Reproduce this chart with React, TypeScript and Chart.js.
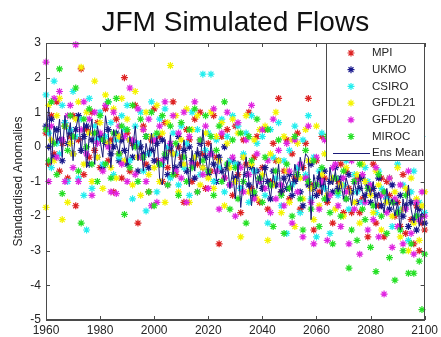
import React, { useEffect, useRef } from "react";
import { Chart, registerables } from "chart.js";
Chart.register(...registerables);

const startYear = 1960;
const endYear = 2100;
const xTicks = [1960, 1980, 2000, 2020, 2040, 2060, 2080, 2100];
const yTicks = [-5, -4, -3, -2, -1, 0, 1, 2, 3];
const titleText = "JFM Simulated Flows";
const yAxisTitle = "Standardised Anomalies";

const modelNames = ["MPI", "UKMO", "CSIRO", "GFDL21", "GFDL20", "MIROC"];
const modelColors = ["#dd2222", "#18188c", "#22eeee", "#f4f400", "#e024e0", "#24e024"];
const meanName = "Ens Mean";
const meanColor = "#1a1a78";

const mpi = [
  0.4, -0.5, 0.9, -0.2, 1.3, -0.7, 0.1, 0.6, -0.9, 0.3,
  0.9, -1.7, 0.2, 2.25, -0.8, 0.5, -0.3, 1.0, -0.1, 0.7,
  -0.6, 0.3, 1.1, -0.4, 0.2, -1.3, 0.8, -0.2, -0.9, 2.0,
  0.4, -0.7, 0.1, 1.2, -2.2, -0.3, 0.6, -0.5, -1.3, 0.2,
  1.1, -0.4, 0.3, -1.0, 0.7, -0.6, -0.1, 1.3, -0.8, 0.0,
  -0.3, -1.6, 0.5, 0.2, -1.0, 0.8, -0.5, 1.0, -0.2, -1.2,
  0.1, -0.7, 0.9, -0.3, -2.8, 0.3, -0.9, 0.5, -0.4, -1.4,
  0.6, -0.8, -1.9, 0.2, -0.5, 1.0, -1.2, -0.3, 0.3, -1.6,
  -0.6, 0.5, -1.8, -1.0, 0.1, -0.4, 1.4, -1.3, -0.7, 0.2,
  -1.5, -0.2, -0.9, 0.4, -1.8, -0.6, 0.1, 1.4, -1.1, -2.4,
  -0.4, -1.3, 0.3, -0.9, -1.6, -0.2, -2.2, 0.6, -1.0, -0.5,
  -1.9, -0.7, -1.2, -1.9, 0.2, -0.9, -1.9, -1.5, -0.3, -2.6,
  -1.2, -0.5, -2.2, -1.7, -0.9, -2.6, -1.0, -1.4, 0.7, -2.0,
  -1.6, -2.3, -0.8, -2.5, -1.3, -2.1, -2.8, -1.7, -3.0, -2.2,
  -2.4,
];
const ukmo = [
  0.6, 0.0, 0.8, -0.3, 0.5, 0.2, -0.4, 0.7, 0.1, 0.4,
  -0.2, 0.5, 0.9, -0.1, 0.3, 0.6, -0.5, 0.2, 0.4, -0.3,
  0.3, -0.6, 0.1, 0.5, -0.2, 0.0, 0.4, -0.4, 0.2, -0.1,
  -0.5, 0.2, -0.3, 0.1, -0.7, 0.0, -0.2, 0.3, -0.6, -0.1,
  -0.4, 0.1, -0.5, 0.2, -0.3, -0.8, 0.0, -0.2, -0.6, 0.3,
  -0.5, -0.1, -0.7, 0.0, -0.4, -0.9, -0.2, 0.1, -0.6, -0.3,
  -0.8, -0.2, -0.5, -1.0, -0.3, -0.7, 0.0, -0.6, -1.1, -0.4,
  -0.9, -0.5, -1.2, -0.3, -0.8, -1.1, -0.6, -1.4, -0.7, -0.9,
  -1.2, -0.6, -1.0, -1.5, -0.7, -1.1, -0.4, -1.3, -0.9, -1.2,
  -0.8, -1.4, -1.0, -0.6, -1.3, -1.7, -0.9, -1.1, -0.5, -1.2,
  -1.4, -0.9, -1.1, -0.7, -1.5, -1.0, -1.3, -0.6, -1.2, -0.9,
  -1.1, -1.5, -0.8, -1.3, -1.0, -1.6, -1.2, -0.9, -1.4, -1.1,
  -1.6, -1.2, -1.4, -0.9, -1.7, -1.3, -1.5, -1.8, -1.1, -1.6,
  -1.9, -1.4, -2.0, -1.7, -2.3, -1.6, -2.1, -2.4, -1.8, -2.0,
  -2.2,
];
const csiro = [
  1.5, 0.4, -0.6, 1.9, 0.1, -0.2, 1.2, 0.7, -1.0, 0.5,
  1.6, 0.3, -0.9, 0.8, -1.4, -2.4, 1.4, -1.2, 0.6, 0.2,
  1.0, -0.5, 0.3, 1.3, 0.7, -0.8, 0.2, -0.3, 0.9, 0.5,
  1.2, -0.4, -1.5, 0.6, 0.1, 1.0, -0.7, -1.85, -0.2, 1.3,
  0.3, -1.3, 0.8, -0.5, 1.1, 0.0, -0.9, 0.4, -0.2, -1.1,
  0.6, -0.6, 0.1, -1.4, 1.0, -0.3, 0.5, -0.8, 2.1, -0.1,
  0.4, 2.1, -1.0, 0.2, -0.6, 0.8, -1.3, 0.3, -0.4, 0.9,
  -0.5, 0.6, -1.2, -0.2, 0.4, -1.6, 0.9, -0.7, 0.1, -1.0,
  0.3, -1.4, -2.2, 0.5, -0.3, -0.9, 0.7, -1.7, -0.4, -2.5,
  -0.1, -1.1, 0.6, -0.6, -1.9, 0.2, -0.8, 0.9, -1.5, -0.3,
  -2.6, -0.7, 0.4, -1.2, -0.2, -2.5, 0.5, -0.9, -1.4, 0.8,
  -1.1, -0.4, -1.8, 0.3, -0.8, -1.3, 0.9, -1.6, -0.6, -1.0,
  -0.2, 1.2, -1.9, -0.7, -1.2, 0.2, -1.5, -0.9, -2.3, 1.0,
  -0.5, -1.8, -1.1, 0.5, -2.7, -1.3, -0.7, -2.0, -1.6, 0.3,
  -1.9,
];
const gfdl21 = [
  -1.75, 1.2, 0.2, -0.4, 0.9, 1.4, -2.1, 0.6, -1.6, 0.1,
  -0.2, 0.8, 1.3, 2.3, -0.5, 1.0, 0.4, -1.0, 1.9, -0.3,
  0.7, -1.2, 1.5, 0.1, -0.6, 1.1, -0.9, 0.3, 1.4, -0.4,
  0.8, 0.2, -1.1, 1.6, -0.3, -1.4, 0.5, 1.0, -0.8, 0.3,
  -0.6, 1.2, -1.0, 0.4, -1.6, 0.7, 2.35, -0.2, 0.9, -1.3,
  0.2, -0.5, 1.1, -1.6, 0.5, -0.3, 0.9, -1.1, -0.6, 0.4,
  -0.9, 1.0, -1.2, 0.3, -0.4, 0.7, -1.7, 0.1, -0.6, 0.8,
  -1.0, 0.4, -2.6, -0.3, 0.9, -1.3, -0.5, 0.2, -1.5, 0.5,
  -0.8, 0.6, -2.7, -0.2, -1.1, 1.0, -0.4, -1.9, 0.3, -0.7,
  -1.6, 0.2, -2.3, 0.1, -0.9, -1.5, 0.5, -0.4, -1.2, -2.1,
  0.6, -1.7, -0.8, -0.2, -1.4, 0.4, -0.9, -1.8, -0.3, -1.1,
  -2.0, -0.6, -1.3, 0.1, -1.6, -0.8, -2.2, -0.5, -1.0, 0.3,
  -1.4, -1.9, -0.7, -1.1, -2.4, -0.3, -1.6, -0.9, -2.0, -1.3,
  -0.6, -2.6, -1.8, -1.2, -3.0, -0.9, -2.2, -1.5, -2.7, -1.7,
  -1.3,
];
const gfdl20 = [
  2.45, -1.0, 0.6, 1.4, -0.3, 1.6, 0.2, -1.0, 0.9, 1.2,
  -0.6, 2.95, -1.0, 0.5, 1.3, -0.2, 0.8, -1.4, 1.0, 0.1,
  0.4, -0.7, 1.2, 0.0, -1.3, 1.0, -1.35, 0.6, -0.5, 0.3,
  -1.0, 1.7, 0.2, -0.8, 1.1, -0.3, 0.5, -1.0, 0.8, -1.7,
  0.2, -1.6, 0.6, -0.4, 1.3, -1.1, 0.1, 0.9, -0.7, 0.4,
  -0.9, 1.0, -1.6, 0.3, -0.5, 1.3, -1.3, 0.2, -0.8, 0.6,
  -1.2, -0.2, 1.1, -0.7, -1.8, 0.4, -0.9, 1.0, -1.1, -0.3,
  -2.0, 0.7, -0.6, -1.3, 0.2, -0.8, 1.2, -1.5, -0.2, -1.0,
  0.5, -1.2, -0.4, -1.9, 0.8, -1.5, -0.1, -1.1, -1.7, 0.1,
  -0.7, -2.2, 0.2, -1.3, -0.5, -2.6, -0.9, 0.6, -1.6, -2.8,
  -0.3, -1.8, -1.0, 0.2, -2.7, -1.4, -0.6, -0.5, -1.7, -2.3,
  -0.9, -1.3, -2.8, -0.4, -1.8, -1.0, -3.1, -0.8, -1.6, -2.4,
  -1.1, -2.1, -0.6, -2.6, -1.4, -4.25, -1.9, -0.9, -2.9, -1.5,
  -2.3, -1.1, -2.8, -1.8, -0.7, -2.5, -3.1, -1.6, -2.1, -1.3,
  -2.0,
];
const miroc = [
  0.5, -0.4, 1.3, 0.1, -0.8, 2.25, -1.35, 0.6, -0.1, 0.9,
  0.3, 1.7, -0.7, -2.2, 0.8, 0.0, 1.1, -0.5, 0.4, -1.0,
  0.9, 0.2, -0.5, 1.3, -0.9, 0.4, 1.4, -0.2, 0.6, -1.95,
  0.5, -0.6, 1.2, 0.0, -1.0, 0.8, -0.3, 0.3, -1.3, 1.0,
  -1.7, 0.4, -0.5, 0.9, -0.2, -1.1, 0.6, -0.8, 0.1, -1.4,
  0.7, -0.3, -1.0, 0.5, -0.6, 1.1, -1.3, 0.2, -0.4, 0.9,
  -0.7, 0.3, -1.4, -0.1, 0.6, -1.0, 1.3, -0.5, -1.8, 0.2,
  -0.6, -1.5, 0.4, -1.0, -2.2, 0.3, -0.4, -1.3, 0.8, -0.9,
  -1.6, -0.3, 0.5, -1.1, -2.3, -0.7, 0.2, -1.4, -2.5, -0.5,
  -1.2, -2.0, 0.3, -0.8, -1.5, -2.4, -0.1, -1.0, -1.8, -0.4,
  -1.1, -2.3, -0.6, -1.5, 0.3, -1.9, -2.8, -0.9, -1.3, -2.0,
  -0.7, -1.5, -3.5, -2.4, -1.0, -2.7, -0.5, -1.8, -2.1, -1.2,
  -2.9, -1.7, -3.6, -0.8, -2.0, -1.3, -2.5, -3.2, -1.6, -3.85,
  -1.9, -2.4, -3.0, -1.4, -3.65, -2.8, -3.65, -2.0, -3.3, -4.7,
  -3.1,
];
const ensMean = [
  0.3, 1.15, -0.5, 0.6, 0.1, 0.8, -0.3, 0.9, 0.2, 0.7,
  -0.4, 0.5, 0.9, -0.2, 0.7, -0.6, 0.3, 0.8, -0.5, 0.6,
  0.2, -0.3, 0.9, 0.4, -0.6, 0.5, 0.1, -0.2, 0.5, 0.0,
  -0.5, 0.3, -0.1, 0.6, -0.4, 0.2, -0.7, 0.1, -0.3, 0.4,
  -0.3, 0.3, -0.9, -1.1, 0.2, -0.5, 0.35, -0.8, -0.2, 0.1,
  -0.6, 0.2, -0.4, -1.15, -0.1, -0.7, 0.0, -0.5, 0.5, -0.3,
  -0.8, 0.1, -0.5, -0.9, -0.2, -0.6, -1.0, -0.4, -1.2, -0.7,
  -1.5, -0.5, -1.75, -0.9, -0.3, -1.0, -1.7, -0.6, -1.2, -0.8,
  -1.3, -0.6, -1.0, -1.5, -0.8, -1.2, -0.5, -1.4, -0.9, -1.1,
  -0.9, -1.3, -0.5, -1.0, -0.3, -0.7, -0.2, -0.3, -2.1, -0.8,
  -1.2, -0.7, -1.4, -0.9, -1.6, -0.6, -1.1, -0.7, -1.3, -1.0,
  -1.5, -0.9, -1.2, -1.7, -1.0, -1.4, -0.8, -1.3, -1.6, -1.1,
  -1.4, -1.0, -1.8, -1.3, -1.6, -1.9, -1.2, -1.7, -1.5, -2.0,
  -1.6, -2.4, -1.5, -1.9, -1.1, -1.8, -2.2, -1.6, -2.3, -1.9,
  -2.0,
];

const modelSeries = [mpi, ukmo, csiro, gfdl21, gfdl20, miroc];
const FONT = "'Liberation Sans', Arial, sans-serif";
const AXIS_COLOR = "#4a4a4a";
const TEXT_COLOR = "#262626";

function toPoints(vals: number[]) {
  return vals.map((v, i) => ({ x: startYear + i, y: v }));
}

function drawStar(ctx: CanvasRenderingContext2D, x: number, y: number, r: number) {
  const d = r * Math.SQRT1_2;
  ctx.beginPath();
  ctx.moveTo(x - r, y); ctx.lineTo(x + r, y);
  ctx.moveTo(x, y - r); ctx.lineTo(x, y + r);
  ctx.moveTo(x - d, y - d); ctx.lineTo(x + d, y + d);
  ctx.moveTo(x - d, y + d); ctx.lineTo(x + d, y - d);
  ctx.stroke();
}

const decorPlugin = {
  id: "decor",
  afterDraw(chart: any) {
    const { ctx, chartArea: a, scales } = chart;
    ctx.save();
    ctx.strokeStyle = AXIS_COLOR;
    ctx.lineWidth = 1;
    ctx.strokeRect(Math.round(a.left) + 0.5, Math.round(a.top) + 0.5, Math.round(a.right - a.left) - 1, Math.round(a.bottom - a.top) - 1);
    const tl = 4;
    ctx.beginPath();
    scales.x.ticks.forEach((t: any) => {
      const px = Math.round(scales.x.getPixelForValue(t.value)) + 0.5;
      ctx.moveTo(px, a.bottom); ctx.lineTo(px, a.bottom - tl);
      ctx.moveTo(px, a.top); ctx.lineTo(px, a.top + tl);
    });
    scales.y.ticks.forEach((t: any) => {
      const py = Math.round(scales.y.getPixelForValue(t.value)) + 0.5;
      ctx.moveTo(a.left, py); ctx.lineTo(a.left + tl, py);
      ctx.moveTo(a.right, py); ctx.lineTo(a.right - tl, py);
    });
    ctx.stroke();

    ctx.fillStyle = "#111";
    ctx.font = `28px ${FONT}`;
    ctx.textAlign = "center";
    ctx.textBaseline = "alphabetic";
    ctx.fillText(titleText, (a.left + a.right) / 2, 31);

    const lx = 326, ly = Math.round(a.top), lw = Math.round(a.right) - 326, lh = 118;
    ctx.fillStyle = "#ffffff";
    ctx.fillRect(lx, ly, lw, lh);
    ctx.strokeStyle = AXIS_COLOR;
    ctx.strokeRect(lx + 0.5, ly + 0.5, lw - 1, lh - 1);
    ctx.font = `11.5px ${FONT}`;
    ctx.textAlign = "left";
    ctx.textBaseline = "middle";
    const rowH = 16.7;
    modelNames.forEach((name, i) => {
      const cy = ly + 10 + i * rowH;
      ctx.strokeStyle = modelColors[i];
      ctx.lineWidth = 1.2;
      drawStar(ctx, 351, cy, 3.5);
      ctx.fillStyle = TEXT_COLOR;
      ctx.fillText(name, 372, cy);
    });
    const cy = ly + 10 + 6 * rowH;
    ctx.strokeStyle = meanColor;
    ctx.lineWidth = 1;
    ctx.beginPath();
    ctx.moveTo(333, Math.round(cy) + 0.5); ctx.lineTo(370, Math.round(cy) + 0.5);
    ctx.stroke();
    ctx.fillStyle = TEXT_COLOR;
    ctx.fillText(meanName, 372, cy);
    ctx.restore();
  },
};

export default function App() {
  const ref = useRef<HTMLCanvasElement | null>(null);
  useEffect(() => {
    document.body.style.margin = "0";
    const canvas = ref.current!;
    const datasets: any[] = [
      {
        type: "line",
        label: meanName,
        data: toPoints(ensMean),
        borderColor: meanColor,
        borderWidth: 1,
        pointRadius: 0,
        showLine: true,
        fill: false,
        tension: 0,
        order: 0,
      },
    ];
    modelNames.forEach((name, i) => {
      datasets.push({
        type: "scatter",
        label: name,
        data: toPoints(modelSeries[i]),
        pointStyle: "star",
        pointRadius: 3.5,
        pointBorderWidth: 1.2,
        borderColor: modelColors[i],
        backgroundColor: modelColors[i],
        clip: false,
        order: 7 - i,
      });
    });
    const chart = new Chart(canvas, {
      type: "scatter",
      data: { datasets },
      options: {
        animation: false,
        responsive: false,
        devicePixelRatio: 1,
        layout: { padding: { top: 43, right: 12, left: 0, bottom: 0 } },
        plugins: { legend: { display: false }, tooltip: { enabled: false }, title: { display: false } },
        scales: {
          x: {
            type: "linear",
            min: startYear,
            max: endYear,
            afterBuildTicks: (s: any) => { s.ticks = xTicks.map((v) => ({ value: v })); },
            afterFit: (s: any) => { s.height = 17; },
            grid: { display: false, drawTicks: false },
            border: { display: true, color: AXIS_COLOR },
            ticks: { color: TEXT_COLOR, font: { family: FONT, size: 12 }, padding: 3, maxRotation: 0, autoSkip: false, callback: (v: any) => String(v) },
          },
          y: {
            type: "linear",
            min: -5,
            max: 3,
            afterBuildTicks: (s: any) => { s.ticks = yTicks.map((v) => ({ value: v })); },
            afterFit: (s: any) => { s.width = 46; },
            grid: { display: false, drawTicks: false },
            border: { display: true, color: AXIS_COLOR },
            title: { display: true, text: yAxisTitle, color: TEXT_COLOR, font: { family: FONT, size: 12 }, padding: { top: 11, bottom: 0 } },
            ticks: { color: TEXT_COLOR, font: { family: FONT, size: 12 }, padding: 5, autoSkip: false, callback: (v: any) => String(v) },
          },
        },
      },
      plugins: [decorPlugin],
    });
    return () => chart.destroy();
  }, []);
  return (
    <div style={{ width: 441, height: 337, background: "#fff" }}>
      <canvas ref={ref} width={441} height={337} style={{ display: "block", width: 441, height: 337 }} />
    </div>
  );
}
